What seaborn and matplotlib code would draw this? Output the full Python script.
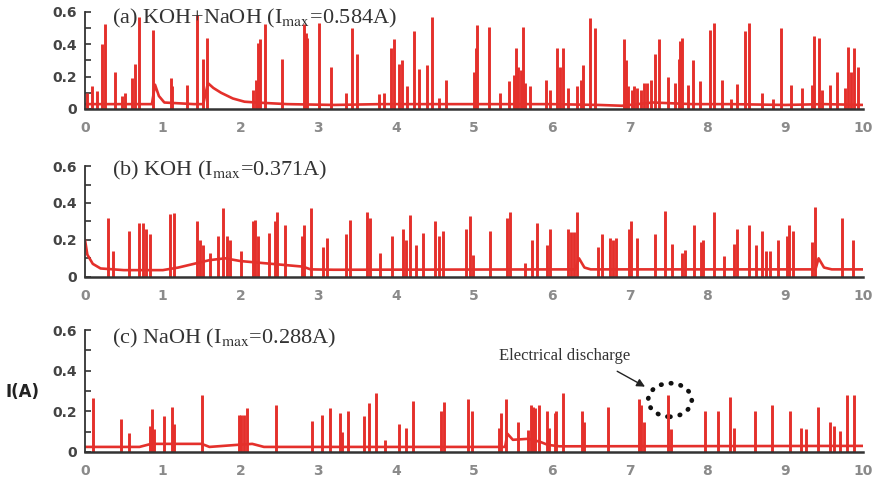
import numpy as np
import pandas as pd
import matplotlib
matplotlib.use("Agg")
import matplotlib.pyplot as plt
from matplotlib.patches import Ellipse
from matplotlib.ticker import MultipleLocator
import seaborn as sns

sns.set_theme(style="white")
plt.rcParams["mathtext.fontset"] = "stix"

RED = "#e4302b"
DARK = "#333333"

# ---- panel (a) KOH+NaOH ----
a_spike_t = [0.03, 0.085, 0.15, 0.22, 0.256, 0.385, 0.47, 0.52, 0.61, 0.64, 0.70, 0.88,
             1.10, 1.12, 1.31, 1.44, 1.515, 1.566, 2.16, 2.20, 2.23, 2.25, 2.31, 2.53,
             2.82, 2.84, 2.86, 3.01, 3.16, 3.35, 3.43, 3.50, 3.78, 3.84, 3.93, 3.97,
             4.03, 4.08, 4.14, 4.23, 4.29, 4.40, 4.46, 4.55, 4.64, 5.00, 5.02, 5.04,
             5.19, 5.33, 5.45, 5.51, 5.54, 5.57, 5.60, 5.63, 5.66, 5.72, 5.92, 5.98,
             6.07, 6.10, 6.14, 6.21, 6.33, 6.37, 6.40, 6.49, 6.56, 6.93, 6.96, 6.98,
             7.03, 7.06, 7.10, 7.15, 7.19, 7.23, 7.28, 7.33, 7.38, 7.50, 7.59, 7.63,
             7.65, 7.68, 7.75, 7.82, 7.90, 8.04, 8.09, 8.19, 8.30, 8.38, 8.49, 8.53,
             8.70, 8.85, 8.95, 9.08, 9.22, 9.34, 9.37, 9.43, 9.48, 9.58, 9.67, 9.77,
             9.81, 9.85, 9.88, 9.94]
a_spike_i = [0.10, 0.14, 0.11, 0.40, 0.525, 0.23, 0.08, 0.10, 0.19, 0.28, 0.57, 0.49,
             0.19, 0.14, 0.15, 0.584, 0.31, 0.44, 0.12, 0.18, 0.41, 0.43, 0.525, 0.31,
             0.525, 0.47, 0.44, 0.53, 0.26, 0.10, 0.50, 0.34, 0.09, 0.10, 0.375, 0.43,
             0.28, 0.30, 0.14, 0.48, 0.25, 0.27, 0.57, 0.07, 0.18, 0.23, 0.375, 0.52,
             0.51, 0.10, 0.17, 0.21, 0.375, 0.26, 0.24, 0.51, 0.16, 0.14, 0.18, 0.12,
             0.375, 0.26, 0.375, 0.13, 0.14, 0.18, 0.27, 0.56, 0.50, 0.43, 0.30, 0.14,
             0.12, 0.14, 0.13, 0.12, 0.16, 0.16, 0.18, 0.34, 0.43, 0.20, 0.16, 0.31,
             0.42, 0.44, 0.15, 0.30, 0.17, 0.49, 0.53, 0.18, 0.06, 0.155, 0.48, 0.53,
             0.10, 0.06, 0.50, 0.15, 0.13, 0.15, 0.45, 0.44, 0.12, 0.15, 0.23, 0.13,
             0.385, 0.23, 0.375, 0.26]
a_base_t = [0, 0.5, 0.86, 0.90, 0.95, 1.02, 1.4, 1.52, 1.58, 1.65, 1.75, 1.9, 2.05,
            2.2, 2.6, 3.2, 3.8, 4.3, 4.6, 5.0, 5.5, 6.0, 6.6, 6.9, 7.3, 7.8, 8.3,
            9.0, 9.5, 10.0]
a_base_i = [0.03, 0.03, 0.03, 0.15, 0.08, 0.04, 0.03, 0.03, 0.16, 0.13, 0.10, 0.065,
            0.045, 0.04, 0.03, 0.025, 0.03, 0.03, 0.03, 0.03, 0.03, 0.03, 0.025, 0.02,
            0.04, 0.03, 0.03, 0.025, 0.03, 0.025]

# ---- panel (b) KOH ----
b_spike_t = [0.29, 0.36, 0.56, 0.69, 0.75, 0.78, 0.84, 1.09, 1.14, 1.44, 1.48, 1.52,
             1.61, 1.71, 1.78, 1.82, 1.87, 2.00, 2.16, 2.19, 2.22, 2.37, 2.44, 2.47,
             2.57, 2.79, 2.81, 2.91, 3.06, 3.11, 3.36, 3.41, 3.62, 3.66, 3.79, 3.94,
             4.09, 4.13, 4.18, 4.26, 4.35, 4.50, 4.55, 4.60, 4.90, 4.95, 4.99, 5.21,
             5.43, 5.46, 5.65, 5.75, 5.81, 5.94, 5.98, 6.21, 6.25, 6.28, 6.33, 6.59,
             6.64, 6.75, 6.79, 6.83, 6.99, 7.02, 7.10, 7.33, 7.46, 7.54, 7.67, 7.71,
             7.83, 7.92, 7.95, 8.08, 8.22, 8.34, 8.38, 8.53, 8.63, 8.70, 8.75, 8.80,
             8.91, 9.02, 9.05, 9.10, 9.34, 9.39, 9.73, 9.87]
b_spike_i = [0.32, 0.14, 0.25, 0.29, 0.29, 0.26, 0.23, 0.34, 0.345, 0.30, 0.20, 0.17,
             0.13, 0.22, 0.37, 0.22, 0.20, 0.14, 0.30, 0.31, 0.22, 0.235, 0.30, 0.35,
             0.28, 0.22, 0.28, 0.371, 0.16, 0.21, 0.23, 0.31, 0.35, 0.32, 0.13, 0.22,
             0.26, 0.20, 0.335, 0.17, 0.235, 0.30, 0.22, 0.25, 0.26, 0.33, 0.12, 0.25,
             0.32, 0.35, 0.075, 0.20, 0.29, 0.17, 0.26, 0.26, 0.24, 0.24, 0.35, 0.16,
             0.23, 0.21, 0.20, 0.21, 0.26, 0.30, 0.21, 0.23, 0.355, 0.18, 0.13, 0.145,
             0.28, 0.19, 0.20, 0.35, 0.11, 0.175, 0.26, 0.28, 0.17, 0.25, 0.14, 0.14,
             0.20, 0.22, 0.28, 0.25, 0.19, 0.38, 0.32, 0.20]
b_base_t = [0, 0.03, 0.1, 0.2, 0.5, 1.0, 1.2, 1.4, 1.6, 1.8, 2.0, 2.4, 2.8, 2.9,
            3.2, 6.3, 6.35, 6.42, 6.5, 8.0, 9.39, 9.43, 9.5, 9.6, 10.0]
b_base_i = [0.20, 0.12, 0.07, 0.045, 0.036, 0.036, 0.05, 0.07, 0.09, 0.10, 0.085,
            0.07, 0.055, 0.04, 0.038, 0.04, 0.10, 0.05, 0.04, 0.04, 0.04, 0.10,
            0.05, 0.04, 0.04]

# ---- panel (c) NaOH ----
c_spike_t = [0.10, 0.46, 0.57, 0.84, 0.86, 0.89, 1.02, 1.12, 1.15, 1.50, 1.98, 2.01,
             2.04, 2.08, 2.45, 2.92, 3.05, 3.15, 3.28, 3.30, 3.38, 3.58, 3.65, 3.74,
             3.86, 4.04, 4.12, 4.22, 4.57, 4.62, 4.92, 4.98, 5.32, 5.35, 5.41, 5.56,
             5.69, 5.73, 5.76, 5.79, 5.83, 5.94, 5.97, 6.04, 6.06, 6.14, 6.39, 6.42,
             6.72, 7.12, 7.15, 7.19, 7.50, 7.53, 7.97, 8.14, 8.29, 8.34, 8.61, 8.83,
             9.06, 9.20, 9.27, 9.42, 9.58, 9.63, 9.71, 9.79, 9.88]
c_spike_i = [0.265, 0.16, 0.094, 0.13, 0.21, 0.115, 0.175, 0.22, 0.14, 0.28, 0.18,
             0.18, 0.18, 0.215, 0.23, 0.155, 0.18, 0.215, 0.19, 0.10, 0.20, 0.175,
             0.24, 0.288, 0.06, 0.14, 0.12, 0.25, 0.20, 0.245, 0.26, 0.20, 0.12,
             0.19, 0.26, 0.15, 0.11, 0.23, 0.22, 0.215, 0.23, 0.20, 0.12, 0.19, 0.20,
             0.288, 0.20, 0.15, 0.22, 0.26, 0.23, 0.15, 0.28, 0.115, 0.20, 0.20, 0.27,
             0.12, 0.20, 0.23, 0.20, 0.12, 0.115, 0.22, 0.15, 0.13, 0.105, 0.28, 0.28]
c_base_t = [0, 0.7, 0.85, 1.5, 1.6, 1.95, 2.15, 2.3, 5.4, 5.43, 5.5, 5.7, 5.85, 5.95,
            6.1, 10.0]
c_base_i = [0.025, 0.025, 0.04, 0.04, 0.025, 0.035, 0.04, 0.025, 0.025, 0.09, 0.06,
            0.065, 0.05, 0.035, 0.028, 0.03]

panels = [
    ("(a) KOH+NaOH (I$_{\\rm max}$=0.584A)", a_base_t, a_base_i, a_spike_t, a_spike_i, 0.53),
    ("(b) KOH (I$_{\\rm max}$=0.371A)", b_base_t, b_base_i, b_spike_t, b_spike_i, 0.55),
    ("(c) NaOH (I$_{\\rm max}$=0.288A)", c_base_t, c_base_i, c_spike_t, c_spike_i, 0.535),
]

# axes rectangles (left, bottom, width, height) in figure fractions
rects = [
    (0.0966, 0.772, 0.884, 0.203),
    (0.0966, 0.421, 0.884, 0.2316),
    (0.0966, 0.0544, 0.884, 0.255),
]

fig = plt.figure(figsize=(8.8, 4.78), dpi=100)
axes = []
for (title, bt, bi, st, si, ty), rect in zip(panels, rects):
    ax = fig.add_axes(rect)
    base = pd.DataFrame({"t": bt, "I": bi})
    sns.lineplot(data=base, x="t", y="I", ax=ax, color=RED, lw=1.9)
    ax.vlines(st, 0, si, color=RED, lw=2.1)
    ax.set_xlim(0, 10)
    ax.set_ylim(0, 0.6)
    ax.set_xlabel("")
    ax.set_ylabel("")
    ax.set_xticks(range(0, 11))
    ax.set_yticks([0, 0.2, 0.4, 0.6])
    ax.set_yticklabels(["0", "0.2", "0.4", "0.6"])
    ax.yaxis.set_minor_locator(MultipleLocator(0.1))
    ax.tick_params(axis="x", length=0, pad=9, labelsize=10, labelcolor="#8a8a8a")
    ax.tick_params(axis="y", which="both", direction="in", length=4, width=1.2,
                   color=DARK, left=True, pad=6, labelsize=10, labelcolor="#444444")
    for lab in ax.get_yticklabels():
        lab.set_fontweight("bold")
    for lab in ax.get_xticklabels():
        lab.set_fontweight("bold")
    for s in ["top", "right"]:
        ax.spines[s].set_visible(False)
    ax.spines["left"].set_color(DARK)
    ax.spines["left"].set_linewidth(1.3)
    ax.spines["bottom"].set_color(DARK)
    ax.spines["bottom"].set_linewidth(1.8)
    ax.text(0.35, ty, title, family="Liberation Serif", fontsize=16, color=DARK,
            va="baseline", ha="left")
    axes.append(ax)

axc = axes[2]
axc.text(5.32, 0.453, "Electrical discharge", family="Liberation Serif", fontsize=12,
         color=DARK, va="baseline", ha="left")
axc.annotate("", xy=(7.23, 0.315), xytext=(6.81, 0.404),
             arrowprops=dict(arrowstyle="-|>", color="#222222", lw=1, mutation_scale=12))
axc.add_patch(Ellipse((7.52, 0.256), 0.56, 0.165, fill=False, ec="#111111", lw=3.4,
                      ls=(0, (0.1, 2.0)), capstyle="round"))

fig.text(0.006, 1 - 392 / 478, "I(A)", fontsize=12, fontweight="bold", color="#222222",
         va="center", ha="left")

fig.savefig("out.png", dpi=100)
